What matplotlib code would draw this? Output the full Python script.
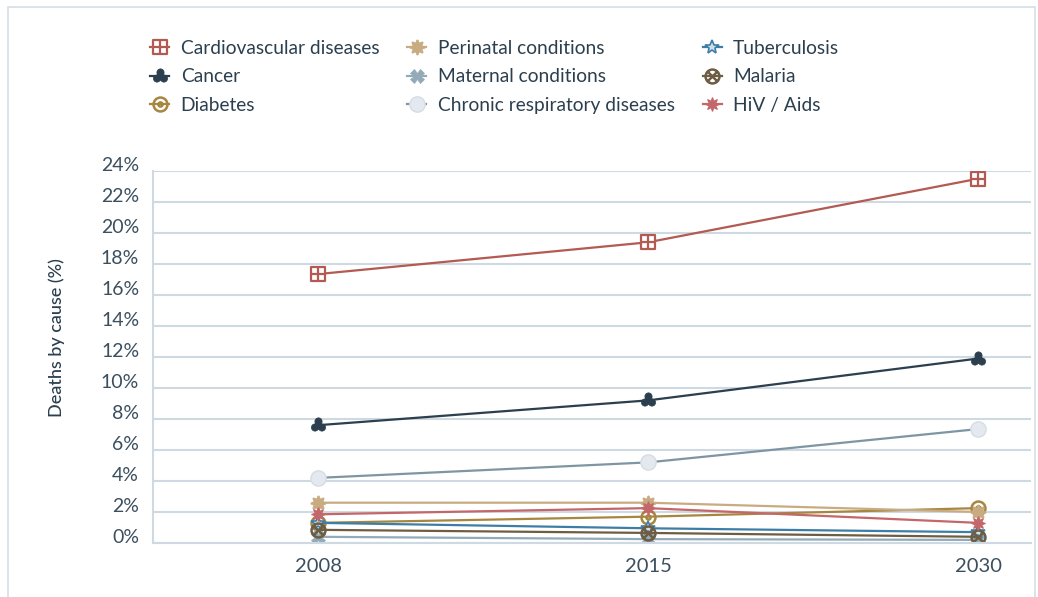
import matplotlib.pyplot as plt
import numpy as np
from matplotlib.path import Path
from matplotlib.patches import Rectangle

plt.rcParams['font.family'] = ['Lato', 'DejaVu Sans']

# data
years = ['2008', '2015', '2030']
cardiovascular = [17.35, 19.4, 23.5]
cancer = [7.6, 9.2, 11.9]
diabetes = [1.3, 1.7, 2.25]
perinatal = [2.6, 2.6, 2.0]
maternal = [0.4, 0.25, 0.2]
chronic_resp = [4.2, 5.2, 7.35]
tuberculosis = [1.3, 0.95, 0.7]
malaria = [0.85, 0.65, 0.4]
hiv_aids = [1.85, 2.25, 1.3]
y_ticks = list(range(0, 25, 2))


# custom marker shapes
def square_plus():
    verts = [(-1, -1), (1, -1), (1, 1), (-1, 1), (-1, -1),
             (0, -1), (0, 1), (-1, 0), (1, 0)]
    codes = [Path.MOVETO, Path.LINETO, Path.LINETO, Path.LINETO, Path.CLOSEPOLY,
             Path.MOVETO, Path.LINETO, Path.MOVETO, Path.LINETO]
    return Path(verts, codes)


def circle_dot():
    inner = Path(Path.unit_circle().vertices * 0.3, Path.unit_circle().codes)
    return Path.make_compound_path(Path.unit_circle(), inner)


def circle_x():
    d = 0.6
    cross = Path([(-d, -d), (d, d), (-d, d), (d, -d)],
                 [Path.MOVETO, Path.LINETO, Path.MOVETO, Path.LINETO])
    return Path.make_compound_path(Path.unit_circle(), cross)


def flower():
    t = np.linspace(0, 2 * np.pi, 97)
    r = 1 + 0.22 * np.cos(8 * t)
    return Path(np.column_stack([r * np.cos(t), r * np.sin(t)]), closed=True)


def trefoil():
    c = Path.unit_circle()
    parts = [Path(c.vertices * 0.4, c.codes)]
    for ang in [90, 210, 330]:
        a = np.radians(ang)
        off = 0.5 * np.array([np.cos(a), np.sin(a)])
        parts.append(Path(c.vertices * 0.45 + off, c.codes))
    return Path.make_compound_path(*parts)


series = [
    ('Cardiovascular diseases', cardiovascular, '#b35a52',
     dict(marker=square_plus(), markersize=10, markerfacecolor='white', markeredgewidth=1.6)),
    ('Cancer', cancer, '#2b3f4e',
     dict(marker=trefoil(), markersize=11, markeredgewidth=0.5)),
    ('Diabetes', diabetes, '#a7863f',
     dict(marker=circle_dot(), markersize=10, markerfacecolor='none', markeredgewidth=1.8)),
    ('Perinatal conditions', perinatal, '#c9ab82',
     dict(marker=flower(), markersize=11, markeredgewidth=0.5)),
    ('Maternal conditions', maternal, '#93aab8',
     dict(marker='X', markersize=10, markeredgewidth=0.5)),
    ('Chronic respiratory diseases', chronic_resp, '#7e95a3',
     dict(marker='o', markersize=11, markerfacecolor='#e3e9ee', markeredgecolor='#d5dde4',
          markeredgewidth=1)),
    ('Tuberculosis', tuberculosis, '#3e7ea6',
     dict(marker='*', markersize=10, markerfacecolor='#cfe0ea', markeredgewidth=1.2)),
    ('Malaria', malaria, '#6e5d42',
     dict(marker=circle_x(), markersize=10, markerfacecolor='none', markeredgewidth=1.8)),
    ('HiV / Aids', hiv_aids, '#c4676a',
     dict(marker=(8, 1, 0), markersize=10, markeredgewidth=0.8)),
]

fig = plt.figure(figsize=(10.38, 5.97), dpi=100)
ax = fig.add_axes([153 / 1038, 1 - 543 / 597, (1031 - 153) / 1038, (543 - 171) / 597])

x = np.arange(len(years))
handles = []
for name, vals, color, style in series:
    line, = ax.plot(x, vals, color=color, linewidth=1.6, label=name, **style)
    handles.append(line)

ax.set_xlim(-0.5, 2 + 53 / 330)
ax.set_ylim(0, 24)
ax.set_yticks(y_ticks)
ax.set_yticklabels([f'{v}%' for v in y_ticks])
ax.set_xticks(x)
ax.set_xticklabels(years)
ax.grid(axis='y', color='#cfd9e1', linewidth=1.5)
ax.set_axisbelow(True)
for side in ['top', 'right']:
    ax.spines[side].set_visible(False)
for side in ['left', 'bottom']:
    ax.spines[side].set_color('#cfd9e1')
    ax.spines[side].set_linewidth(1.5)
ax.tick_params(length=0, labelcolor='#3b4f5e')
ax.tick_params(axis='y', labelsize=14, pad=10)
ax.tick_params(axis='x', labelsize=14.5, pad=11)
for lbl in ax.get_yticklabels():
    lbl.set_verticalalignment('baseline')

fig.text(57 / 1038, 1 - 338 / 597, 'Deaths by cause (%)', rotation=90,
         ha='center', va='center', fontsize=13, color='#2b3f4e', fontweight='medium')

fig.legend(handles=handles, ncol=3, loc='upper left',
           bbox_to_anchor=(150 / 1038, 1 - 40 / 597), frameon=False,
           fontsize=13.8, handlelength=1.0, handletextpad=0.6,
           columnspacing=1.45, labelspacing=0.6, borderpad=0, borderaxespad=0,
           labelcolor='#2b3f4e')

fig.patches.append(Rectangle((8 / 1038, -0.05), (1035 - 8) / 1038, 1.05 - 7 / 597,
                             transform=fig.transFigure, fill=False,
                             edgecolor='#d5dee5', linewidth=1.2))

fig.savefig('out.png', dpi=100)
